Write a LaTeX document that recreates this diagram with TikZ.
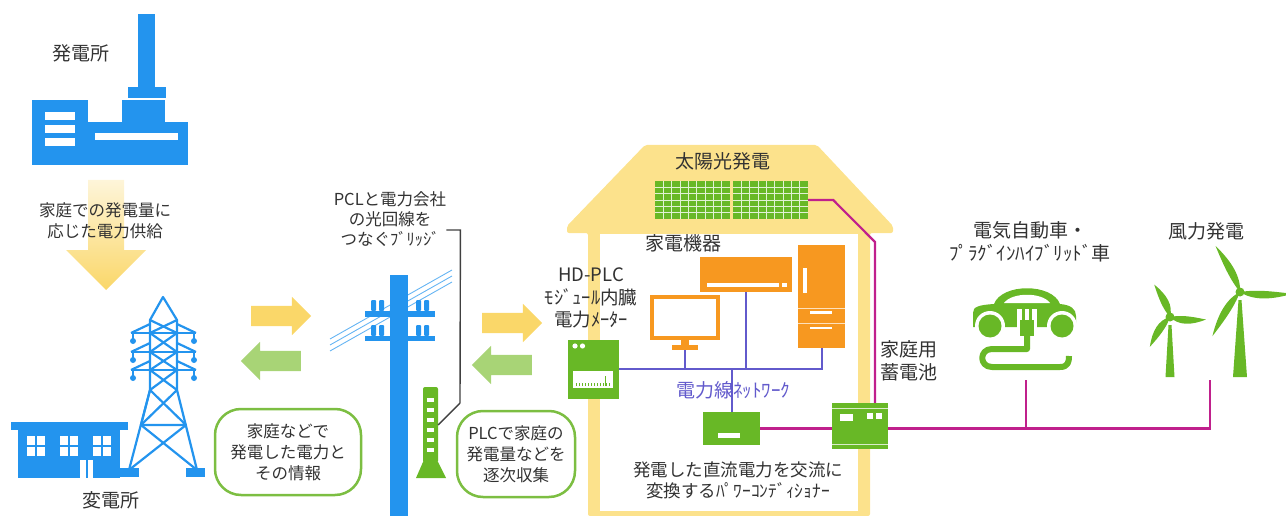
\documentclass[tikz,border=0pt]{standalone}
\usepackage{fontspec}
\setmainfont{Noto Sans CJK JP}
\usetikzlibrary{shapes.arrows}

\definecolor{plantblue}{RGB}{35,148,238}
\definecolor{devgreen}{RGB}{104,184,38}
\definecolor{applorange}{RGB}{247,152,32}
\definecolor{houseyellow}{RGB}{252,226,140}
\definecolor{flowyellow}{RGB}{250,215,105}
\definecolor{flowgreen}{RGB}{168,212,118}
\definecolor{bubblegreen}{RGB}{124,190,66}
\definecolor{cablepink}{RGB}{192,32,140}
\definecolor{netblue}{RGB}{98,90,204}
\definecolor{textgray}{RGB}{50,50,50}

\tikzset{
  heading/.style={font=\fontsize{19}{23}\selectfont, text=textgray, align=center, inner sep=0pt},
  note/.style={font=\fontsize{16.5}{21}\selectfont, text=textgray, align=center, inner sep=0pt},
  bubble/.style={note, draw=bubblegreen, line width=2.5, rounded corners=26, minimum height=86},
  flow/.style={single arrow, single arrow head extend=9, inner xsep=0pt, inner ysep=10, minimum width=38, minimum height=60},
  device/.style={fill=devgreen, inner sep=0pt},
  appliance/.style={fill=applorange, inner sep=0pt},
  wire/.style={cablepink, line width=2.2},
  net/.style={netblue, line width=2},
  cell/.style={white!80!devgreen, line width=0.7},
  callout/.style={black!75, line width=1.4},
}

\begin{document}
\begin{tikzpicture}[x=1pt, y=-1pt]
\useasboundingbox (0,0) rectangle (1286,516);

% power plant
\fill[plantblue] (138,14) rectangle (155,88);
\fill[plantblue] (128,87) rectangle (166,98);
\fill[plantblue] (122,100) rectangle (165,123);
\fill[plantblue] (32,100) rectangle (88,165);
\fill[plantblue] (32,122) rectangle (188,165);
\foreach \y in {112,125,138} \fill[white] (45,\y) rectangle (75,\y+8);
\fill[white] (95,133) rectangle (178,140);
\node[heading] (plant) at (81,53) {発電所};

% supply arrow, fading in from the top
\shade[top color=flowyellow!25, bottom color=flowyellow] (88,180) -- (124,180) -- (124,250) -- (146,250) -- (106,290) -- (66,250) -- (88,250) -- cycle;
\node[note] (supply) at (105,221) {家庭での発電量に\\応じた電力供給};

% substation building
\fill[plantblue] (11,422) rectangle (128,430);
\fill[plantblue] (18,430) rectangle (120,478);
\foreach \x in {27,60,93} {
  \fill[white] (\x,436) rectangle ++(8,9);
  \fill[white] (\x+10,436) rectangle ++(8,9);
  \fill[white] (\x,447) rectangle ++(8,9);
  \fill[white] (\x+10,447) rectangle ++(8,9);
}
\fill[white] (80,460) rectangle (93,478);
\fill[plantblue] (85.5,460) rectangle (87.5,478);

% transmission tower
\begin{scope}[plantblue, line width=2.2, line join=round]
\draw (129,470) -- (150,390) -- (150,320) -- (163,297) -- (177,320) -- (177,390) -- (197,470);
\foreach \a/\b in {320/333,333/352,352/370,370/390} {
  \draw (150,\a) -- (177,\b);
  \draw (177,\a) -- (150,\b);
}
\foreach \y in {333,352,370} {
  \draw (131,\y) -- (196,\y);
  \draw (131,\y) -- (150,{\y-9});
  \draw (196,\y) -- (177,{\y-9});
  \draw[line width=1.4] (133,\y) -- (133,{\y+6});
  \draw[line width=1.4] (194,\y) -- (194,{\y+6});
  \fill (133,{\y+8}) circle (3);
  \fill (194,{\y+8}) circle (3);
}
\draw (150,390) -- (186,425) -- (141,425) -- cycle;
\draw (177,390) -- (141,425);
\draw (141,425) -- (197,470);
\draw (186,425) -- (129,470);
\fill (120,468) rectangle (139,477);
\fill (186,468) rectangle (205,477);
\end{scope}
\node[heading] (substation) at (111,500) {変電所};

% flows between grid and pole
\node[flow, fill=flowyellow] (toPole) at (276,316) {};
\node[flow, fill=flowgreen, shape border rotate=180] (fromPole) at (276,361) {};
\node[bubble, minimum width=146] (infoL) at (288,452) {家庭などで\\発電した電力と\\その情報};

% utility pole
\foreach \i in {0,1,2}
  \draw[plantblue!70, line width=0.9] (330,{339+6*\i}) -- (452,{270+6*\i});
\fill[plantblue] (390,275) rectangle (408,516);
\fill[plantblue] (365,311) rectangle (435,317);
\fill[plantblue] (365,336) rectangle (435,341);
\foreach \x in {371,379,416,424} {
  \fill[plantblue, rounded corners=1] (\x,300) rectangle ++(5,11);
  \fill[plantblue, rounded corners=1] (\x,325) rectangle ++(5,11);
}

% bridge unit on the pole
\fill[devgreen] (416,478) -- (423,462) -- (438,462) -- (446,478) -- cycle;
\node[device, minimum width=15, minimum height=76, rounded corners=2] (bridge) at (430.5,425) {};
\foreach \y in {398,408,...,448} \fill[white] (427,\y) rectangle ++(7,4);
\node[note, font=\fontsize{16.5}{20}\selectfont] (bridgeLabel) at (390,219) {PCLと電力会社\\の光回線を\\つなぐﾌﾞﾘｯｼﾞ};
\draw[callout] ([yshift=-11]bridgeLabel.east) -- ++(14,0) -- (460,403) -- (bridge.east);

% flows between pole and home
\node[flow, fill=flowyellow] (toHome) at (507,323) {};
\node[flow, fill=flowgreen, shape border rotate=180] (fromHome) at (507,365) {};
\node[bubble, minimum width=118] (infoR) at (516,454) {PLCで家庭の\\発電量などを\\逐次収集};

% house
\fill[houseyellow, rounded corners=2] (645,145) -- (817,145) -- (893,226) -- (893,233) -- (870,233) -- (870,516) -- (588,516) -- (588,233) -- (567,233) -- (567,226) -- cycle;
\fill[white] (600,234) rectangle (858,511);

% solar panels
\node[device, minimum width=75, minimum height=38] (panelA) at (692.5,200) {};
\node[device, minimum width=75, minimum height=38] (panelB) at (770.5,200) {};
\foreach \p in {655,733} {
  \foreach \i in {1,...,8} \draw[cell] ({\p+\i*75/9},181) -- ++(0,38);
  \foreach \j in {1,...,5} \draw[cell] (\p,{181+\j*38/6}) -- ++(75,0);
}
\node[heading] (solar) at (723,161) {太陽光発電};

% appliances
\node[draw=applorange, line width=4, minimum width=66, minimum height=41, inner sep=0pt] (tv) at (685,317.5) {};
\fill[applorange] (681,340) rectangle (689,346);
\fill[applorange] (672,345) rectangle (698,350);
\coordinate (tvfoot) at (685,350);
\node[appliance, minimum width=92, minimum height=35] (aircon) at (746,274.5) {};
\fill[white] (707,283) rectangle (779,287);
\fill[white] (782,283) rectangle (787,287);
\node[appliance, minimum width=47, minimum height=103] (fridge) at (821.5,296.5) {};
\fill[white] (803,268) rectangle (807,293);
\draw[white!70!applorange, line width=0.8] (798,308) -- (845,308);
\draw[white!70!applorange, line width=0.8] (798,323) -- (845,323);
\fill[white] (810,311) rectangle (832,313.5);
\fill[white] (810,326.5) rectangle (832,329);
\node[heading] (appliances) at (683,243) {家電機器};

% meter, power conditioner and storage battery
\node[device, minimum width=51, minimum height=59] (meter) at (593.5,369) {};
\fill[white] (575,346) circle (2.6);
\fill[white] (582.5,346) circle (2.6);
\fill[white] (573,371) rectangle (613,388);
\foreach \x in {576,579,...,609} \draw[devgreen, line width=0.8] (\x,386) -- (\x,383);
\draw[devgreen, line width=1] (605,386) -- (605,376);
\node[heading, font=\fontsize{18.5}{22.5}\selectfont] (meterLabel) at (591,298) {HD-PLC\\ﾓｼﾞｭｰﾙ内臓\\電力ﾒｰﾀｰ};

\node[device, minimum width=57, minimum height=33] (pcs) at (731.5,428.5) {};
\fill[white] (718,433) rectangle (740,438);
\node[note, font=\fontsize{17.5}{21}\selectfont] (pcsLabel) at (738,480) {発電した直流電力を交流に\\変換するﾊﾟﾜｰｺﾝﾃﾞｨｼｮﾅｰ};

\node[device, minimum width=56, minimum height=46] (batt) at (860,426) {};
\draw[white!75!devgreen, line width=0.8] (832,408) -- (888,408);
\draw[white!75!devgreen, line width=0.8] (832,444) -- (888,444);
\fill[white] (840,414) rectangle (853,421);
\fill[white] (867,413) rectangle (873,419);
\fill[white] (876,413) rectangle (882,419);
\node[heading, anchor=west, align=left] (battLabel) at (880,361) {家庭用\\蓄電池};

% in-house power line network
\draw[net] (meter.east) -- (meter.east -| fridge.south) -- (fridge.south);
\draw[net] (tvfoot) -- (tvfoot |- meter.east);
\draw[net] (aircon.south) -- (aircon.south |- meter.east);
\draw[net] (pcs.north) -- (pcs.north |- meter.east);
\node[heading, text=netblue] (netLabel) at (733,390) {電力線ﾈｯﾄﾜｰｸ};

% electric vehicle
\fill[devgreen] (973,327) -- (973,313) .. controls (973,307) and (978,305) .. (994,304) .. controls (1002,283) and (1052,283) .. (1060,304) .. controls (1071,305) and (1076,309) .. (1076,316) -- (1076,327) -- cycle;
\fill[white] (1004,303) .. controls (1012,292) and (1042,292) .. (1050,303) -- cycle;
\foreach \x in {990,1062} {
  \fill[white] (\x,326) circle (15);
  \fill[devgreen] (\x,326) circle (11.5);
}
\fill[white] (1017,309) rectangle (1037,342);
\fill[devgreen] (1022,306) rectangle (1025,320);
\fill[devgreen] (1029,306) rectangle (1032,320);
\fill[devgreen] (1020,320) rectangle (1034,336);
\draw[devgreen, line width=6, line join=round] (1027,334) -- (1027,349) -- (992,349) .. controls (979,349) and (979,367) .. (992,367) -- (1060,367) .. controls (1068,367) and (1069,362) .. (1069,356);
\coordinate (carfeed) at (1026,380);
\node[heading] (evLabel) at (1030,242) {電気自動車・\\ﾌﾟﾗｸﾞｲﾝﾊｲﾌﾞﾘｯﾄﾞ車};

% wind turbines
\foreach \hx/\hy/\r/\tw/\ang in {1170/317/36/4.5/116, 1240/292/52/7/118} {
  \fill[devgreen] (\hx-1.5,\hy+8) -- (\hx+1.5,\hy+8) -- (\hx+\tw,377) -- (\hx-\tw,377) -- cycle;
  \foreach \a in {0,120,240}
    \fill[devgreen, shift={(\hx,\hy)}, rotate=\ang+\a] (0,0) .. controls (0.25*\r,8) and (0.6*\r,7) .. (\r,0) .. controls (0.6*\r,-2) and (0.3*\r,-3) .. (0,0);
  \fill[devgreen] (\hx,\hy) circle (4.5);
}
\coordinate (windfeed) at (1210,380);
\node[heading] (windLabel) at (1206,231) {風力発電};

% generation wiring
\coordinate (roofbend) at (875,242);
\draw[wire] (panelB.east) -- ++(25,0) -- (roofbend) -- (roofbend |- batt.north);
\draw[wire] (pcs.east) -- (pcs.east -| batt.west);
\draw[wire] (batt.east |- pcs.east) -- (windfeed |- pcs.east) -- (windfeed);
\draw[wire] (carfeed) -- (carfeed |- pcs.east);

\end{tikzpicture}
\end{document}
